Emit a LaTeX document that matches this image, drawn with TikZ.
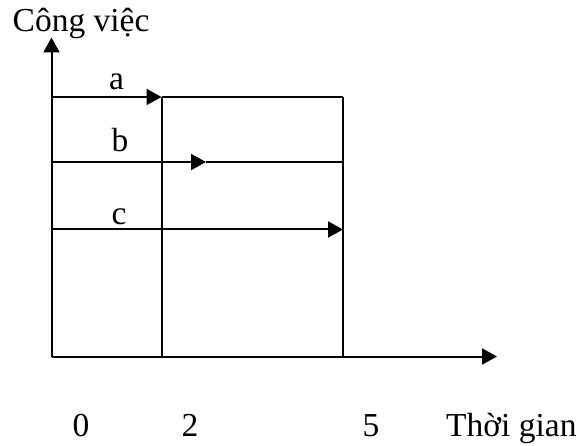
\documentclass[tikz,border=0pt]{standalone}
\usepackage{fontspec}
\setmainfont{Liberation Serif}
\usetikzlibrary{arrows.meta}
\begin{document}
\begin{tikzpicture}[x=1pt,y=-1pt,
  ln/.style={line width=2pt},
  tip/.style={-{Triangle[length=15pt,width=16pt]}},
  lbl/.style={inner sep=0pt,font=\fontsize{33.5}{36}\selectfont}]
\useasboundingbox (0,0) rectangle (583,446);
% coordinates
\coordinate (O) at (51.5,356.5);
\coordinate (Ytop) at (51.5,37.5);
\coordinate (Xend) at (497,356.5);
\coordinate (A0) at (51.5,97);
\coordinate (A1) at (161.5,97);
\coordinate (A2) at (343,97);
\coordinate (B0) at (51.5,162);
\coordinate (B1) at (206,162);
\coordinate (B2) at (343,162);
\coordinate (C0) at (51.5,229.5);
\coordinate (C2) at (343,229.5);
\coordinate (M2) at (161.5,356.5);
\coordinate (M5) at (343,356.5);
% axes
\draw[ln,tip] (O) -- (Ytop);
\draw[ln,tip] (O) -- (Xend);
% grid lines
\draw[ln] (A1) -- (M2);
\draw[ln] (A2) -- (M5);
% jobs
\draw[ln,tip] (A0) -- (A1);
\draw[ln] (A1) -- (A2);
\draw[ln,tip] (B0) -- (B1);
\draw[ln] (B1) -- (B2);
\draw[ln,tip] (C0) -- (C2);
% labels
\node[lbl,anchor=base] (la) at (116.5,90) {a};
\node[lbl,anchor=base] (lb) at (120,152) {b};
\node[lbl,anchor=base] (lc) at (119,225) {c};
\node[lbl,anchor=base west] (ly) at (12.5,32) {Công việc};
\node[lbl,anchor=base] (t0) at (81,436) {0};
\node[lbl,anchor=base] (t2) at (190,436) {2};
\node[lbl,anchor=base] (t5) at (371,436) {5};
\node[lbl,anchor=base west] (tx) at (446,436) {Thời gian};
\end{tikzpicture}
\end{document}
